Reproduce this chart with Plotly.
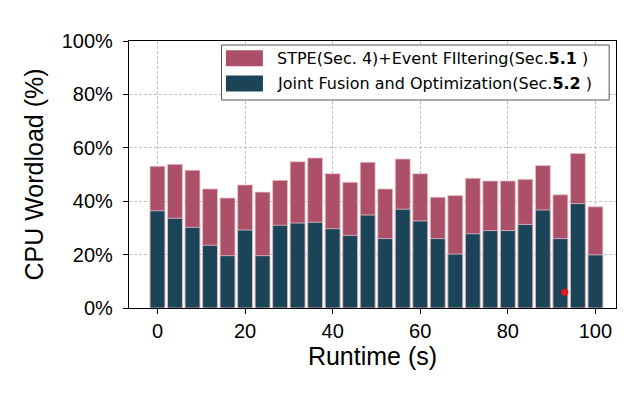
import plotly.graph_objects as go

runtime = [0, 4, 8, 12, 16, 20, 24, 28, 32, 36, 40, 44, 48, 52, 56, 60, 64, 68, 72, 76, 80, 84, 88, 92, 96, 100]
# total height: STPE + event filtering
stpe_filtering = [53.1, 53.8, 51.6, 44.6, 41.2, 46.1, 43.4, 47.8, 54.8, 56.2, 50.3, 47.1, 54.6,
                  44.6, 55.8, 50.3, 41.5, 42.1, 48.6, 47.6, 47.6, 48.2, 53.4, 42.4, 57.9, 37.9]
joint_fusion = [36.4, 33.6, 30.2, 23.5, 19.6, 29.2, 19.6, 31.0, 31.8, 32.1, 29.7, 27.2, 34.8,
                26.0, 37.0, 32.6, 26.0, 20.2, 27.8, 29.0, 29.0, 31.3, 36.7, 26.0, 39.1, 19.9]
marker_x = [93]
marker_y = [5.9]
y_ticks = [0, 20, 40, 60, 80, 100]
y_labels = ["0%", "20%", "40%", "60%", "80%", "100%"]

pink = "#ab5068"
navy = "#1c4459"
name_a = "STPE(Sec. 4)+Event FIltering(Sec.<b>5.1</b> )"
name_b = "Joint Fusion and Optimization(Sec.<b>5.2</b> )"

fig = go.Figure()
fig.add_trace(go.Bar(x=runtime, y=stpe_filtering, width=3.4, name=name_a,
                     marker=dict(color=pink, line=dict(color="#e8c4cc", width=0.8))))
fig.add_trace(go.Bar(x=runtime, y=joint_fusion, width=3.4, name=name_b,
                     marker=dict(color=navy, line=dict(color="#e8c4cc", width=0.8))))
fig.add_trace(go.Scatter(x=marker_x, y=marker_y, mode="markers", showlegend=False,
                         marker=dict(color="#e8141e", size=7)))

axis_common = dict(
    showline=True, linecolor="black", linewidth=1.3, mirror=True,
    ticks="outside", ticklen=5, tickwidth=1.3, tickcolor="black",
    showgrid=True, gridcolor="#c2c2c2", griddash="3px,2px", gridwidth=1,
    zeroline=False, tickfont=dict(family="Liberation Sans", size=20, color="black"),
)
fig.update_xaxes(range=[-6.5, 104.7], tickvals=[0, 20, 40, 60, 80, 100],
                 title=dict(text="Runtime (s)", standoff=3,
                            font=dict(family="Liberation Sans", size=25, color="black")),
                 **axis_common)
fig.update_yaxes(range=[0, 100], tickvals=y_ticks, ticktext=y_labels, ticklabelstandoff=6,
                 title=dict(text="CPU Wordload (%)", standoff=10,
                            font=dict(family="Liberation Sans", size=25, color="black")),
                 **axis_common)

# legend drawn by hand to get matplotlib-style wide patches
fig.add_shape(type="rect", xref="paper", yref="paper", x0=0.190, x1=0.986, y0=0.779, y1=0.985,
              line=dict(color="#555555", width=1), fillcolor="rgba(255,255,255,0.9)", layer="above")
for i, (nm, col) in enumerate([(name_a, pink), (name_b, navy)]):
    yc = 0.935 - i * 0.094
    fig.add_shape(type="rect", xref="paper", yref="paper", x0=0.199, x1=0.275,
                  y0=yc - 0.030, y1=yc + 0.030, fillcolor=col, line=dict(width=0), layer="above")
    fig.add_annotation(x=0.300, y=yc, xref="paper", yref="paper", text=nm, showarrow=False,
                       xanchor="left", yanchor="middle",
                       font=dict(family="DejaVu Sans", size=16, color="black"))

fig.update_layout(
    width=632, height=394, barmode="overlay", showlegend=False,
    margin=dict(l=121, r=24, t=33, b=94),
    plot_bgcolor="white", paper_bgcolor="white",
)
fig.write_html("out.html")
